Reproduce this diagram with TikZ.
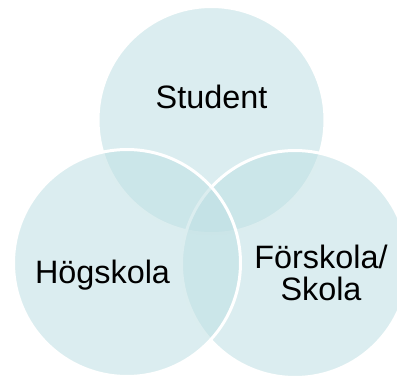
\documentclass[tikz,border=0pt]{standalone}
\usepackage{fontspec}
\setmainfont{Liberation Sans}
\definecolor{vennfill}{RGB}{190,223,227}
\tikzset{
  vennset/.style={circle,minimum size=227bp,inner sep=0pt,fill=vennfill,fill opacity=.55,draw=white,line width=3bp},
  vennlabel/.style={font=\fontsize{32.5}{32}\selectfont,align=center,anchor=base}
}

\begin{document}
\begin{tikzpicture}[x=1bp,y=-1bp]
  \useasboundingbox (0,0) rectangle (397,378);
  % the three sets
  \node[vennset] (student) at (211.5,120) {};
  \node[vennset] (skola) at (295,264) {};
  \node[vennset] (hogskola) at (127,263) {};
  % labels
  \node[vennlabel] (studentlbl) at (211.5,108) {Student};
  \node[vennlabel] (hogskolalbl) at (102.5,283) {Högskola};
  \node[vennlabel] (skolalbl) at (321,300) {Förskola/\\Skola};
\end{tikzpicture}
\end{document}
